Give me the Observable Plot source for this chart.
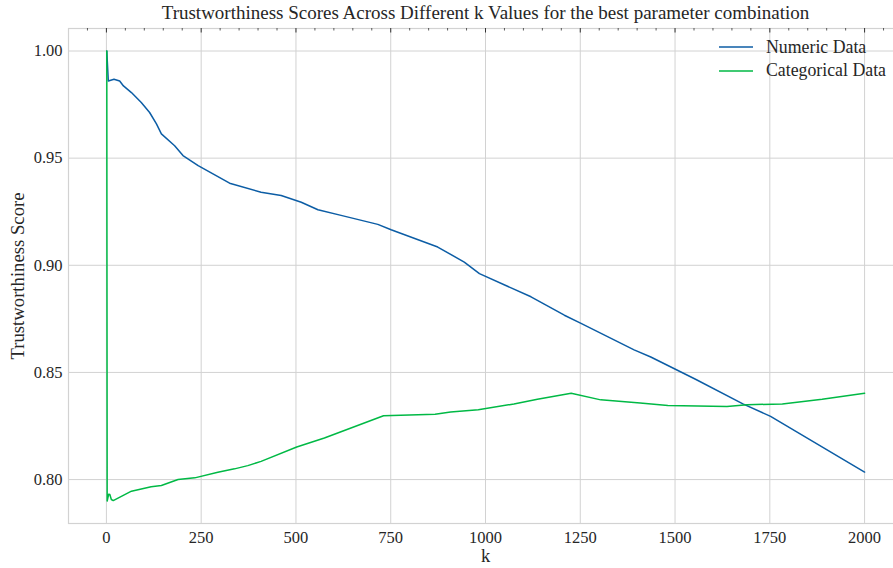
<!DOCTYPE html>
<html>
<head>
<meta charset="utf-8">
<script src="https://cdn.jsdelivr.net/npm/d3@7"></script>
<script src="https://cdn.jsdelivr.net/npm/@observablehq/plot@0.6"></script>
<style>
  html, body { margin: 0; padding: 0; background: #fff; }
  #wrap { position: relative; width: 893px; height: 568px; overflow: hidden; }
  #wrap svg.plot { max-width: none !important; }
  #legend { position: absolute; left: 719px; top: 35.5px; font-family: 'Liberation Serif', serif; font-size: 17.8px; color: #262626; }
  #legend .row { display: flex; align-items: center; height: 23.5px; }
  #legend svg { margin-right: 13px; }
</style>
</head>
<body>
<div id="wrap"><div id="legend"></div></div>
<script>
const title = "Trustworthiness Scores Across Different k Values for the best parameter combination";
const xLabel = "k";
const yLabel = "Trustworthiness Score";
const seriesNames = ["Numeric Data", "Categorical Data"];
const seriesColors = ["#0C5DA5", "#00B945"];

const kNumeric = [1, 5, 20, 35, 45, 66, 92, 114, 132, 145, 180, 202, 242, 325, 408, 461, 514, 558, 619, 716, 751, 874, 944, 984, 1058, 1120, 1155, 1208, 1252, 1322, 1392, 1436, 1554, 1679, 1752, 2000];
const numericScores = [1.000, 0.986, 0.9868, 0.986, 0.9837, 0.9806, 0.976, 0.9713, 0.966, 0.9613, 0.9558, 0.9512, 0.9465, 0.9383, 0.9341, 0.9326, 0.9294, 0.9259, 0.9233, 0.9191, 0.9166, 0.9085, 0.9015, 0.8961, 0.8902, 0.8853, 0.8819, 0.8767, 0.8729, 0.8667, 0.8605, 0.8572, 0.8468, 0.8353, 0.8295, 0.8035];

const kCategorical = [1, 2, 6, 9, 13, 18, 66, 118, 145, 189, 233, 294, 338, 373, 408, 502, 575, 731, 867, 908, 981, 1075, 1137, 1226, 1304, 1408, 1481, 1637, 1690, 1783, 1888, 2000];
const categoricalScores = [1.000, 0.790, 0.7932, 0.7930, 0.7907, 0.7902, 0.7946, 0.7966, 0.7972, 0.8000, 0.8008, 0.8034, 0.8050, 0.8065, 0.8085, 0.8152, 0.8194, 0.8298, 0.8305, 0.8315, 0.8326, 0.8353, 0.8375, 0.8403, 0.8372, 0.8357, 0.8346, 0.8341, 0.8349, 0.8353, 0.8375, 0.8403];

const xTicks = [0, 250, 500, 750, 1000, 1250, 1500, 1750, 2000];
const xMinorTicks = d3.range(-50, 2101, 50).filter(v => v % 250 !== 0);
const yTicks = [0.80, 0.85, 0.90, 0.95, 1.00];

const data = [
  ...kNumeric.map((k, i) => ({k, score: numericScores[i], series: seriesNames[0]})),
  ...kCategorical.map((k, i) => ({k, score: categoricalScores[i], series: seriesNames[1]}))
];

const H = 568, mTop = 28, mBottom = 45;
const innerH = H - mTop - mBottom;
const grid = "#d2d2d2";
const font = "'Liberation Serif', serif";

const chart = Plot.plot({
  width: 902,
  height: H,
  marginLeft: 68,
  marginRight: 0,
  marginTop: mTop,
  marginBottom: mBottom,
  x: {domain: [-100, 2100]},
  y: {domain: [0.7795, 1.0105]},
  color: {domain: seriesNames, range: seriesColors},
  style: {fontFamily: font, fontSize: "16.5px", color: "#262626", background: "white", maxWidth: "none"},
  marks: [
    Plot.gridX(xTicks, {stroke: grid, strokeOpacity: 1, strokeWidth: 1}),
    Plot.gridY(yTicks, {stroke: grid, strokeOpacity: 1, strokeWidth: 1}),
    Plot.frame({stroke: grid, strokeWidth: 1.2}),
    Plot.ruleX(xMinorTicks, {stroke: "#333", strokeWidth: 0.8, insetBottom: innerH - 2.5}),
    Plot.ruleX(xTicks, {stroke: "#333", strokeWidth: 1, insetBottom: innerH - 4.5}),
    Plot.axisX(xTicks, {tickSize: 0, tickPadding: 8, tickFormat: d3.format("d"), label: null, fontSize: 16.5, fontFamily: font}),
    Plot.axisY(yTicks, {tickSize: 0, tickPadding: 6, tickFormat: d3.format(".2f"), label: null, fontSize: 16.5, fontFamily: font}),
    Plot.line(data, {x: "k", y: "score", stroke: "series", z: "series", strokeWidth: 1.5}),
    Plot.text([title], {frameAnchor: "top", lineAnchor: "middle", dy: -16, fontSize: 19, fill: "#262626", fontFamily: font}),
    Plot.text([xLabel], {frameAnchor: "bottom", lineAnchor: "middle", dy: 33, fontSize: 18.5, fill: "#262626", fontFamily: font}),
    Plot.text([yLabel], {frameAnchor: "left", textAnchor: "middle", lineAnchor: "middle", dx: -50, rotate: -90, fontSize: 18.7, fill: "#262626", fontFamily: font})
  ]
});
chart.style.maxWidth = "none";

const wrap = document.getElementById("wrap");
wrap.insertBefore(chart, wrap.firstChild);

const legend = document.getElementById("legend");
seriesNames.forEach((name, i) => {
  const row = document.createElement("div");
  row.className = "row";
  row.innerHTML = `<svg width="34" height="4"><line x1="0" x2="34" y1="2" y2="2" stroke="${seriesColors[i]}" stroke-width="1.6"/></svg><span>${name}</span>`;
  legend.appendChild(row);
});
</script>
</body>
</html>
